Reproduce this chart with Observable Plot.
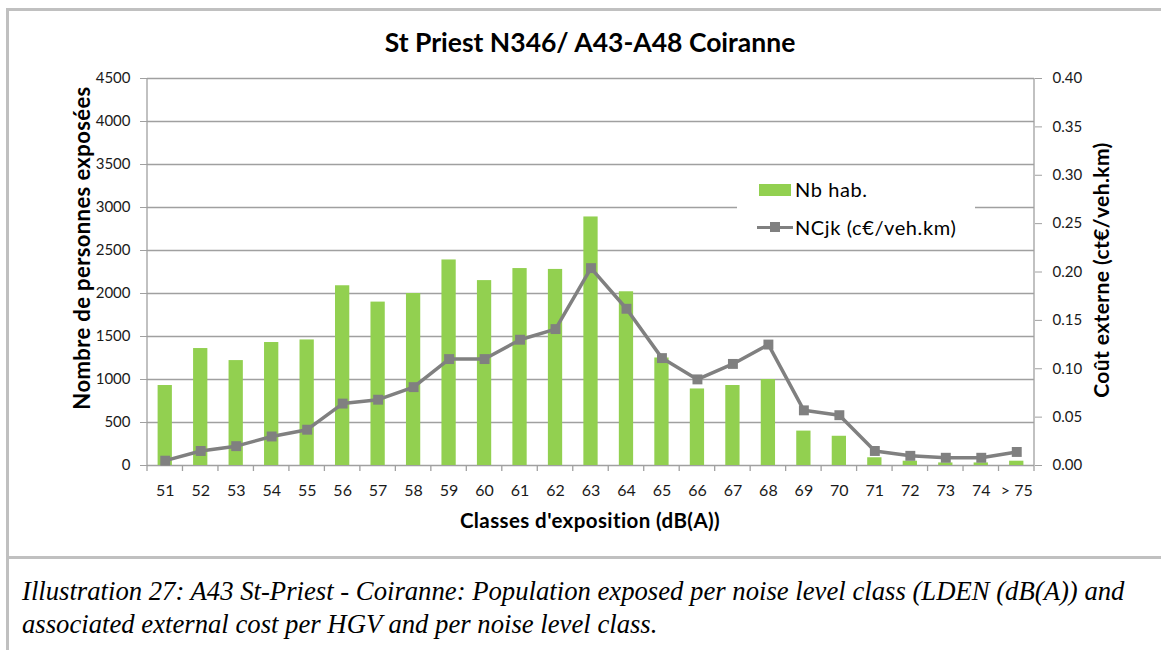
<!DOCTYPE html>
<html>
<head>
<meta charset="utf-8">
<script src="https://cdn.jsdelivr.net/npm/d3@7"></script>
<script src="https://cdn.jsdelivr.net/npm/@observablehq/plot@0.6"></script>
<style>
  html, body { margin: 0; padding: 0; background: #fff; }
  body { width: 1161px; height: 650px; position: relative; overflow: hidden; font-family: Lato, sans-serif; }
  .abs { position: absolute; }
  #chart { position: absolute; left: 0; top: 0; }
  .bl { background: #c0c0c0; position: absolute; }
  #title { left: 0; width: 1180px; top: 26px; text-align: center; font-weight: bold; font-size: 26.5px; color: #000; }
  .ylab { font-weight: bold; font-size: 21px; letter-spacing: 0.4px; color: #000; white-space: nowrap; transform: translate(-50%, -50%) rotate(-90deg); }
  #xlab { left: 0; width: 1180px; top: 508px; text-align: center; font-weight: bold; font-size: 20.5px; letter-spacing: 0.4px; color: #000; }
  #legend { left: 737px; top: 172px; width: 238px; height: 72px; background: #fff; }
  .li { position: absolute; left: 58px; font-size: 20px; letter-spacing: 0.6px; color: #000; white-space: nowrap; line-height: 22px; }
  #caption { left: 22px; top: 575px; font-family: "Liberation Serif", serif; font-style: italic; font-size: 26.7px; line-height: 33px; color: #000; white-space: nowrap; }
</style>
</head>
<body>
<div id="chart"></div>
<div class="bl" style="left:6px;top:8px;width:3px;height:642px"></div>
<div class="bl" style="left:6px;top:8px;width:1155px;height:3px"></div>
<div class="bl" style="left:6px;top:556px;width:1155px;height:3px"></div>
<div id="title" class="abs">St Priest N346/ A43-A48 Coiranne</div>
<div class="abs ylab" style="left:81px;top:248px;font-size:22px">Nombre de personnes exposées</div>
<div class="abs ylab" style="left:1100px;top:270px">Coût externe (ct€/veh.km)</div>
<div id="xlab" class="abs">Classes d'exposition (dB(A))</div>
<div id="legend" class="abs">
  <div class="abs" style="left:22px;top:12px;width:32px;height:12px;background:#92d050"></div>
  <div class="li" style="top:6px">Nb hab.</div>
  <div class="abs" style="left:20px;top:54px;width:36px;height:3px;background:#808080"></div>
  <div class="abs" style="left:33px;top:50px;width:10px;height:10px;background:#808080"></div>
  <div class="li" style="top:44px">NCjk (c€/veh.km)</div>
</div>
<div id="caption" class="abs">Illustration 27: A43 St-Priest - Coiranne: Population exposed per noise level class (LDEN (dB(A)) and<br>associated external cost per HGV and per noise level class.</div>
<script>
const categories = ["51","52","53","54","55","56","57","58","59","60","61","62","63","64","65","66","67","68","69","70","71","72","73","74","> 75"];
const nbHab = [930, 1360, 1220, 1430, 1460, 2090, 1900, 2000, 2390, 2150, 2290, 2280, 2890, 2020, 1250, 890, 930, 1000, 400, 340, 90, 50, 30, 30, 50];
const ncjk = [0.005, 0.015, 0.020, 0.030, 0.037, 0.064, 0.068, 0.081, 0.110, 0.110, 0.130, 0.141, 0.204, 0.162, 0.111, 0.089, 0.105, 0.125, 0.057, 0.052, 0.015, 0.010, 0.008, 0.008, 0.014];
const leftTicks = [0, 500, 1000, 1500, 2000, 2500, 3000, 3500, 4000, 4500];
const rightTicks = [0, 0.05, 0.10, 0.15, 0.20, 0.25, 0.30, 0.35, 0.40];

const leftMax = 4500, rightMax = 0.40;
const k = leftMax / rightMax;
const data = categories.map((c, i) => ({c, hab: nbHab[i], nc: ncjk[i]}));

function axisLines(index, scales, values, dims) {
  const {width, height, marginLeft, marginRight, marginTop, marginBottom} = dims;
  const x0 = marginLeft, x1 = width - marginRight, yb = height - marginBottom;
  const n = categories.length, step = (x1 - x0) / n;
  const g = d3.create("svg:g").attr("stroke", "#a0a0a0").attr("stroke-width", 1.3).attr("fill", "none");
  g.append("line").attr("x1", x0).attr("x2", x0).attr("y1", marginTop).attr("y2", yb + 6);
  g.append("line").attr("x1", x1).attr("x2", x1).attr("y1", marginTop).attr("y2", yb + 6);
  for (let i = 1; i < n; i++) {
    g.append("line").attr("x1", x0 + i * step).attr("x2", x0 + i * step).attr("y1", yb).attr("y2", yb + 6);
  }
  return g.node();
}

const chart = Plot.plot({
  width: 1161,
  height: 558,
  marginLeft: 147,
  marginRight: 127,
  marginTop: 78,
  marginBottom: 93,
  style: {fontFamily: "Lato, sans-serif", fontSize: "15px", color: "#1a1a1a", background: "transparent"},
  x: {domain: categories, padding: 0, round: false, axis: null},
  y: {domain: [0, leftMax], axis: null},
  marks: [
    Plot.ruleY(leftTicks, {stroke: "#a0a0a0", strokeWidth: 1.3}),
    Plot.barY(data, {x: "c", y: "hab", fill: "#92d050", insetLeft: 10.6, insetRight: 10.6}),
    Plot.lineY(data, {x: "c", y: d => d.nc * k, stroke: "#808080", strokeWidth: 3.5}),
    Plot.dot(data, {x: "c", y: d => d.nc * k, symbol: "square", fill: "#808080", r: 5.6}),
    axisLines,
    Plot.axisY(leftTicks, {anchor: "left", tickSize: 7, tickPadding: 10, stroke: "#a0a0a0", fill: "#1a1a1a", tickFormat: d => String(d), fontSize: 15, label: null}),
    Plot.axisY(rightTicks.map(v => v * k), {anchor: "right", tickSize: 7, tickPadding: 11, stroke: "#a0a0a0", fill: "#1a1a1a", tickFormat: d => (d / k).toFixed(2), fontSize: 15, label: null}),
    Plot.axisX({anchor: "bottom", tickSize: 0, tickPadding: 19, fill: "#1a1a1a", fontSize: 16, label: null})
  ]
});
document.getElementById("chart").append(chart);
</script>
</body>
</html>
